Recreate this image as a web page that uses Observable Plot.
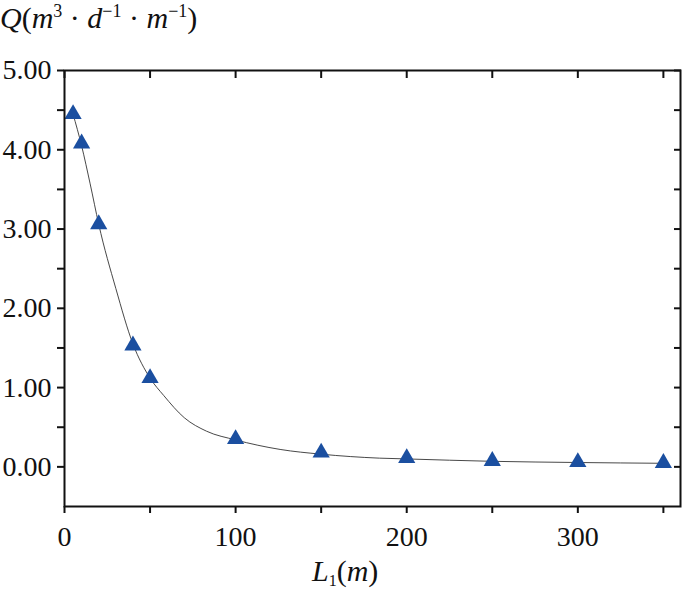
<!DOCTYPE html>
<html>
<head>
<meta charset="utf-8">
<script src="https://cdn.jsdelivr.net/npm/d3@7"></script>
<script src="https://cdn.jsdelivr.net/npm/@observablehq/plot@0.6"></script>
<style>
  html, body { margin: 0; padding: 0; background: #fff; }
  #wrap { position: relative; width: 685px; height: 595px; font-family: "Liberation Serif", "Times New Roman", "DejaVu Serif", serif; }
  #wrap svg text { font-family: "Liberation Serif", "Times New Roman", "DejaVu Serif", serif !important; }
  #ylab { position: absolute; left: 0px; top: 3px; font-size: 30px; line-height: 1; white-space: nowrap; color: #111; }
  #ylab sup { font-size: 18px; vertical-align: 11px; line-height: 0; }
  #xlab { position: absolute; left: 312px; top: 556px; font-size: 30px; line-height: 1; white-space: nowrap; color: #111; }
  #xlab sub { font-size: 16px; vertical-align: -5px; line-height: 0; }
  #chart { position: absolute; left: 0; top: 0; }
</style>
</head>
<body>
<div id="wrap">
  <div id="chart"></div>
  <div id="ylab"><i>Q</i>(<i>m</i><sup>3</sup> · <i>d</i><sup>−1</sup> · <i>m</i><sup>−1</sup>)</div>
  <div id="xlab"><i>L</i><sub>1</sub>(<i>m</i>)</div>
</div>
<script>
// Measured points
const lengths = [5, 10, 20, 40, 50, 100, 150, 200, 250, 300, 350];
const flows = [4.45, 4.08, 3.06, 1.53, 1.12, 0.35, 0.18, 0.11, 0.075, 0.06, 0.05];

// Fitted curve
const fitX = [5, 10, 15, 20, 30, 40, 50, 58, 70, 83, 100, 126, 150, 184, 200, 250, 300, 350];
const fitY = [4.45, 4.05, 3.57, 3.06, 2.25, 1.55, 1.12, 0.90, 0.62, 0.45, 0.34, 0.22, 0.16, 0.11, 0.10, 0.07, 0.055, 0.045];

// Ticks
const xTicks = [0, 50, 100, 150, 200, 250, 300, 350];
const yTicks = [0, 0.5, 1, 1.5, 2, 2.5, 3, 3.5, 4, 4.5, 5];

const points = lengths.map((x, i) => ({x, y: flows[i]}));
const fit = fitX.map((x, i) => ({x, y: fitY[i]}));

const chart = Plot.plot({
  width: 685,
  height: 595,
  marginLeft: 64,
  marginRight: 5,
  marginTop: 70,
  marginBottom: 89,
  style: {fontFamily: "Liberation Serif, Times New Roman, serif", fontSize: "28px", color: "#111", background: "#fff"},
  x: {domain: [0, 360]},
  y: {domain: [-0.5, 5]},
  marks: [
    Plot.line(fit, {x: "x", y: "y", stroke: "#333", strokeWidth: 0.9, curve: "monotone-x"}),
    Plot.dot(points, {x: "x", y: "y", symbol: "triangle", r: 6.4, fill: "#1b4fa0", stroke: "none"}),
    Plot.axisX({ticks: xTicks, tickSize: 7, tickPadding: 13, strokeWidth: 2, stroke: "#111",
      tickFormat: d => d % 100 === 0 ? String(d) : "", label: null, fontSize: 28}),
    Plot.axisX({anchor: "top", ticks: xTicks, tickSize: -7, strokeWidth: 2, stroke: "#111", tickFormat: () => "", label: null}),
    Plot.axisY({ticks: yTicks, tickSize: 7, tickPadding: 6, strokeWidth: 2, stroke: "#111",
      tickFormat: d => Number.isInteger(d) ? d.toFixed(2) : "", label: null, fontSize: 28}),
    Plot.axisY({anchor: "right", ticks: yTicks, tickSize: -7, strokeWidth: 2, stroke: "#111", tickFormat: () => "", label: null}),
    Plot.frame({stroke: "#111", strokeWidth: 2})
  ]
});
document.getElementById("chart").appendChild(chart);
</script>
</body>
</html>
